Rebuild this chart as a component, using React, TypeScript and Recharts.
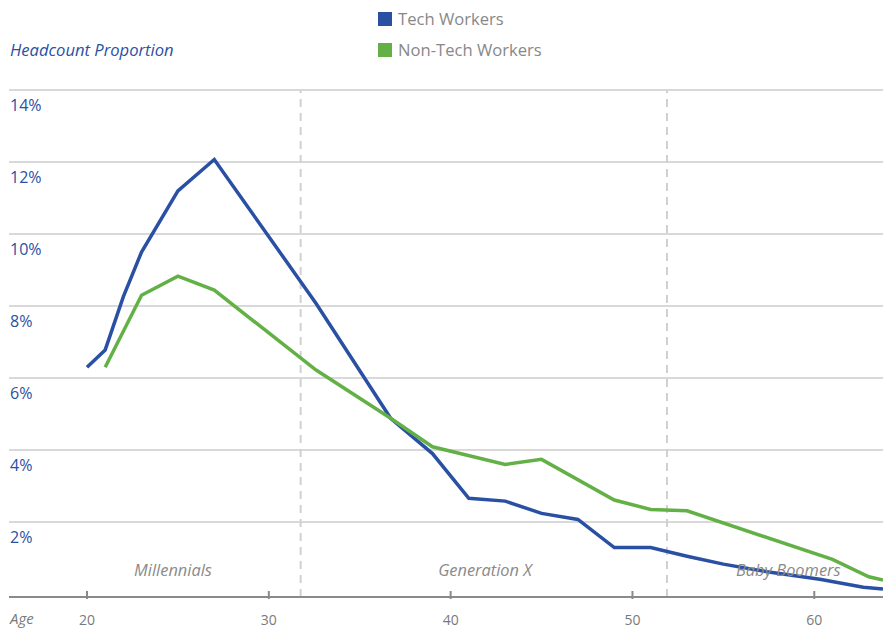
import React from 'react';
import {
  LineChart,
  Line,
  XAxis,
  YAxis,
  CartesianGrid,
  ReferenceLine,
  ReferenceDot,
  Legend,
} from 'recharts';

if (typeof document !== 'undefined') document.body.style.margin = '0';

const techAges = [20, 21, 22, 23, 25, 27, 32.6, 36.7, 39, 41, 43, 45, 47, 49, 51, 53, 55, 57.4, 60.3, 62.7, 63.78];
const techShare = [6.3, 6.78, 8.26, 9.5, 11.2, 12.07, 8.07, 4.88, 3.9, 2.66, 2.58, 2.24, 2.07, 1.29, 1.29, 1.05, 0.83, 0.62, 0.41, 0.19, 0.14];

const nonTechAges = [21, 23, 25, 27, 32.6, 36.7, 39, 43, 45, 49, 51, 53, 61, 63, 63.78];
const nonTechShare = [6.3, 8.3, 8.83, 8.44, 6.22, 4.88, 4.09, 3.6, 3.74, 2.61, 2.35, 2.31, 0.96, 0.48, 0.39];

const ageTicks = [20, 30, 40, 50, 60];
const shareTicks = [2, 4, 6, 8, 10, 12, 14];
const generationBreaks = [31.75, 51.9];
const generations = ['Millennials', 'Generation X', 'Baby Boomers'];
const generationCenters = [24.73, 41.89, 58.57];

const BLUE = '#2a50a4';
const GREEN = '#63b146';
const FONT = '"Open Sans", sans-serif';

const techData = techAges.map((age, i) => ({ age, value: techShare[i] }));
const nonTechData = nonTechAges.map((age, i) => ({ age, value: nonTechShare[i] }));

const legendItems = [
  { name: 'Tech Workers', color: BLUE },
  { name: 'Non-Tech Workers', color: GREEN },
];

const AgeTick = ({ x, y, payload }: any) => (
  <g>
    <line x1={x} x2={x} y1={y - 8} y2={y} stroke="#8a8a8a" strokeWidth={2} />
    <text x={x} y={y + 26} textAnchor="middle" fill="#7a7a7a" fontSize={14} fontFamily={FONT}>
      {payload.value}
    </text>
  </g>
);

const ShareTick = ({ x, y, payload }: any) => (
  <text x={x + 1} y={y + 21} fill={BLUE} fontSize={16} fontFamily={FONT}>
    {payload.value}%
  </text>
);

const LegendBox = () => (
  <div style={{ fontFamily: FONT }}>
    {legendItems.map((item) => (
      <div key={item.name} style={{ display: 'flex', alignItems: 'center', height: 31 }}>
        <span style={{ width: 14, height: 14, background: item.color, marginRight: 6 }} />
        <span style={{ fontSize: 16.6, color: '#888' }}>{item.name}</span>
      </div>
    ))}
  </div>
);

export default function App() {
  return (
    <div style={{ width: 883, height: 628, background: '#fff' }}>
      <LineChart
        width={883}
        height={628}
        margin={{ top: 90, right: 0, bottom: 0, left: 8 }}
      >
        <CartesianGrid horizontal vertical={false} stroke="#d9d9d9" strokeWidth={2} />
        <XAxis
          type="number"
          dataKey="age"
          domain={[15.71, 63.78]}
          ticks={ageTicks}
          allowDataOverflow
          height={31}
          tickSize={0}
          tickLine={false}
          axisLine={{ stroke: '#8a8a8a', strokeWidth: 2 }}
          tick={<AgeTick />}
          label={{
            content: ({ viewBox }: any) => (
              <text x={viewBox.x + 1} y={viewBox.y + 27} fill="#7a7a7a" fontSize={15} fontStyle="italic" fontFamily={FONT}>
                Age
              </text>
            ),
          }}
        />
        <YAxis
          type="number"
          domain={[-0.0833, 14]}
          ticks={shareTicks}
          allowDataOverflow
          width={1}
          tickSize={0}
          tickMargin={0}
          tickLine={false}
          axisLine={false}
          tick={<ShareTick />}
          label={{
            content: ({ viewBox }: any) => (
              <text x={viewBox.x + 2} y={viewBox.y - 34} fill={BLUE} fontSize={16.6} fontStyle="italic" fontFamily={FONT}>
                Headcount Proportion
              </text>
            ),
          }}
        />
        <Legend
          layout="vertical"
          verticalAlign="middle"
          align="center"
          content={<LegendBox />}
          wrapperStyle={{ top: 3, left: 378, width: 220, height: 62 }}
        />
        {generationBreaks.map((x) => (
          <ReferenceLine key={x} x={x} stroke="#d0d0d0" strokeWidth={2} strokeDasharray="8 6" />
        ))}
        {generations.map((name, i) => (
          <ReferenceDot
            key={name}
            x={generationCenters[i]}
            y={0.5}
            ifOverflow="visible"
            shape={(p: any) => (
              <text x={p.cx} y={p.cy} textAnchor="middle" fill="#8a8a8a" fontSize={16.4} fontStyle="italic" fontFamily={FONT}>
                {name}
              </text>
            )}
          />
        ))}
        <Line
          data={techData}
          dataKey="value"
          type="linear"
          stroke={BLUE}
          strokeWidth={3.5}
          dot={false}
          isAnimationActive={false}
        />
        <Line
          data={nonTechData}
          dataKey="value"
          type="linear"
          stroke={GREEN}
          strokeWidth={3.5}
          dot={false}
          isAnimationActive={false}
        />
      </LineChart>
    </div>
  );
}
